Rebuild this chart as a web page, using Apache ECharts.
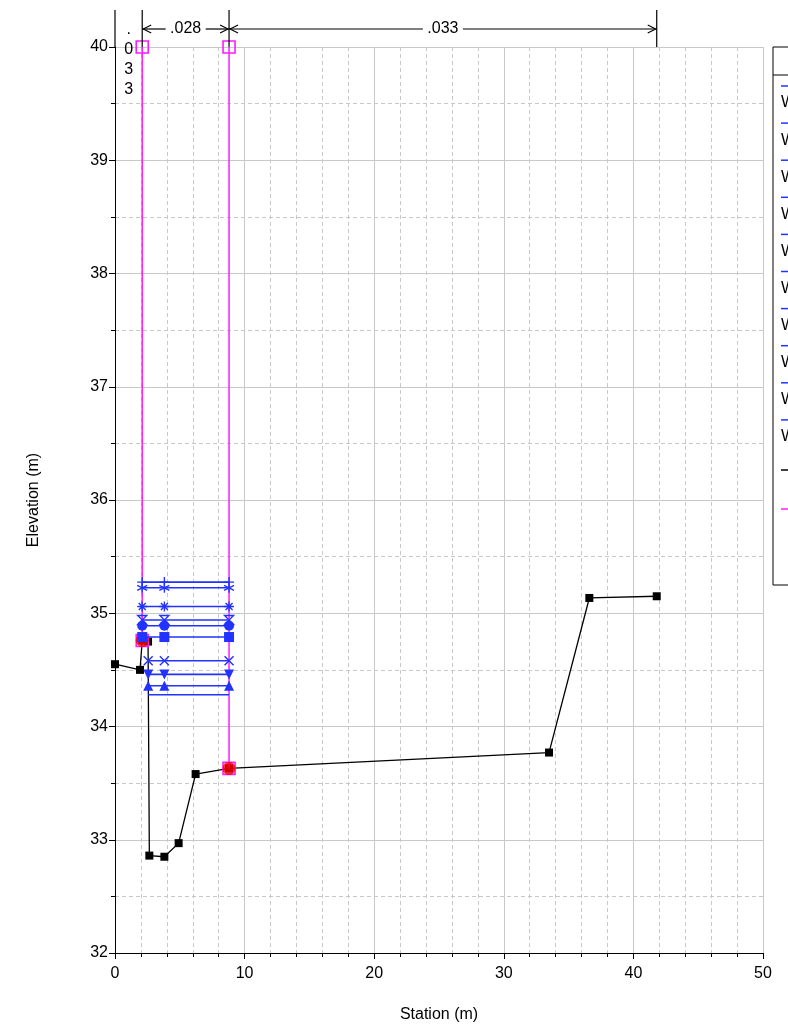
<!DOCTYPE html>
<html>
<head>
<meta charset="utf-8">
<script src="https://cdn.jsdelivr.net/npm/echarts@6/dist/echarts.min.js"></script>
<style>
html,body{margin:0;padding:0;background:#fff;}
#chart{width:788px;height:1024px;}
</style>
</head>
<body>
<div id="chart"></div>
<script>
// ---- data ----
const groundStation = [0, 1.93, 2.1, 2.55, 2.65, 3.81, 4.91, 6.22, 8.8, 33.49, 36.6, 41.8];
const groundElev    = [34.55, 34.50, 34.76, 34.75, 32.86, 32.85, 32.97, 33.58, 33.63, 33.77, 35.135, 35.15];

const bankStation = [2.1, 8.8];
const bankElev    = [34.76, 33.63];

const leveeStation = [2.1, 8.8];
const leveeTop     = [40, 40];
const leveeBottom  = [34.76, 33.63];

const wsNames = ['WS PF 10','WS PF 9','WS PF 8','WS PF 7','WS PF 6','WS PF 5','WS PF 4','WS PF 3','WS PF 2','WS PF 1'];
const wsElev  = [35.275, 35.225, 35.06, 34.94, 34.89, 34.79, 34.58, 34.46, 34.36, 34.28];
const wsLeftStation  = [2.1, 2.1, 2.1, 2.1, 2.1, 2.1, 2.56, 2.56, 2.56, 2.56];
const wsMidStation   = [3.81, 3.81, 3.81, 3.81, 3.81, 3.81, 3.81, 3.81, 3.81, null];
const wsRightStation = [8.8, 8.8, 8.8, 8.8, 8.8, 8.8, 8.8, 8.8, 8.8, 8.8];

const nStations = [0, 2.1, 8.8, 41.8];
const nLabels   = ['.033', '.028', '.033'];

const xTicks = [0, 10, 20, 30, 40, 50];
const yTicks = [32, 33, 34, 35, 36, 37, 38, 39, 40];

// ---- styles ----
const FONT = 'Liberation Sans, Arial, Helvetica, sans-serif';
const BLUE = '#2233ff';
const MAGENTA = '#ff1aff';
const wsSymbols = [
  {symbol:'path://M5 0L5 10M0 5L10 5', size:10, stroke:true},
  {symbol:'path://M5 0L5 10M0.7 2.5L9.3 7.5M9.3 2.5L0.7 7.5', size:10, stroke:true},
  {symbol:'path://M5 0L5 10M0 5L10 5M1.5 1.5L8.5 8.5M8.5 1.5L1.5 8.5', size:10, stroke:true},
  {symbol:'path://M0 0L10 0L0 10L10 10Z', size:9, stroke:true, hollow:true},
  {symbol:'circle', size:10},
  {symbol:'rect', size:10},
  {symbol:'path://M0 0L10 10M10 0L0 10', size:9, stroke:true},
  {symbol:'path://M0 0L10 0L5 9Z', size:10},
  {symbol:'triangle', size:10},
  {symbol:'none', size:0}
];

const chart = echarts.init(document.getElementById('chart'), null, {renderer:'canvas'});

const series = [];

// Ground
series.push({
  name:'Ground', type:'line', z:3,
  data: groundStation.map((s,i)=>[s, groundElev[i]]),
  symbol:'rect', symbolSize:8, showAllSymbol:true,
  lineStyle:{color:'#000', width:1.3},
  itemStyle:{color:'#000'},
  animation:false, silent:true
});

// Levee markers (magenta)
leveeStation.forEach((s,i)=>{
  series.push({
    name:'Levee', type:'line', z:4,
    data:[[s, leveeTop[i]], [s, leveeBottom[i]]],
    symbol:'rect', symbolSize:12, showAllSymbol:true,
    lineStyle:{color:MAGENTA, width:1.5},
    itemStyle:{color:'rgba(0,0,0,0)', borderColor:MAGENTA, borderWidth:1.6},
    animation:false, silent:true
  });
});

// Bank stations (red)
series.push({
  name:'Bank Sta', type:'scatter', z:5,
  data: bankStation.map((s,i)=>[s, bankElev[i]]),
  symbol:'circle', symbolSize:13,
  itemStyle:{color:'#ff0000'},
  animation:false, silent:true
});

// Water surfaces
wsElev.forEach((e,i)=>{
  const pts = [[wsLeftStation[i], e]];
  if (wsMidStation[i] !== null) pts.push([wsMidStation[i], e]);
  pts.push([wsRightStation[i], e]);
  const st = wsSymbols[i];
  series.push({
    name: wsNames[i], type:'line', z:6,
    data: pts,
    symbol: st.symbol, symbolSize: st.size, showSymbol: st.symbol !== 'none', showAllSymbol:true,
    lineStyle:{color:BLUE, width:1.6},
    itemStyle: st.stroke
      ? {color: st.hollow ? 'rgba(0,0,0,0)' : BLUE, borderColor:BLUE, borderWidth:1.4}
      : {color:BLUE, borderWidth:0},
    animation:false, silent:true
  });
});

// Manning's n annotation above plot
const nSegments = nLabels.map((l,i)=>[nStations[i], nStations[i+1]]);
series.push({
  name:'n', type:'custom', z:10, clip:false, silent:true, animation:false,
  coordinateSystem:'cartesian2d',
  encode:{x:[0,1], y:[]},
  data: nSegments,
  renderItem: function(params, api){
    const i = params.dataIndex;
    const s = api.value(0), e = api.value(1);
    const yTop = yTicks[yTicks.length-1];
    const a = api.coord([s, yTop]);
    const b = api.coord([e, yTop]);
    const top = a[1] - 37, ay = a[1] - 18;
    const ls = {stroke:'#000', lineWidth:1.2};
    const ch = [];
    ch.push({type:'line', shape:{x1:a[0], y1:top, x2:a[0], y2:a[1]}, style:ls});
    if (i === nSegments.length - 1) ch.push({type:'line', shape:{x1:b[0], y1:top, x2:b[0], y2:a[1]}, style:ls});
    const label = nLabels[i];
    const w = b[0] - a[0];
    if (w < 40) {
      ch.push({type:'text', style:{text: label.split('').join('\n'), x:(a[0]+b[0])/2, y: top + 10,
        align:'center', verticalAlign:'top', font:'16px ' + FONT, lineHeight:20, fill:'#000'}});
    } else {
      const cx = (a[0]+b[0])/2;
      const tw = 32;
      ch.push({type:'text', style:{text: label, x:cx, y:ay, align:'center', verticalAlign:'middle', font:'16px ' + FONT, fill:'#000'}});
      ch.push({type:'line', shape:{x1:a[0], y1:ay, x2:cx - tw/2 - 4, y2:ay}, style:ls});
      ch.push({type:'line', shape:{x1:cx + tw/2 + 4, y1:ay, x2:b[0], y2:ay}, style:ls});
      ch.push({type:'polyline', shape:{points:[[a[0]+9, ay-4],[a[0]+1, ay],[a[0]+9, ay+4]]}, style:{stroke:'#000', lineWidth:1.1, fill:null}});
      ch.push({type:'polyline', shape:{points:[[b[0]-9, ay-4],[b[0]-1, ay],[b[0]-9, ay+4]]}, style:{stroke:'#000', lineWidth:1.1, fill:null}});
    }
    return {type:'group', children: ch};
  }
});

// Legend (clipped at right edge, as in reference)
const legendEls = [];
legendEls.push({type:'rect', shape:{x:773, y:47, width:40, height:538}, style:{fill:'#fff', stroke:'#000', lineWidth:1}, z:0});
legendEls.push({type:'line', shape:{x1:773, y1:75, x2:800, y2:75}, style:{stroke:'#000', lineWidth:1}, z:1});
wsNames.forEach((n,i)=>{
  const y = 86 + 37.1*i;
  legendEls.push({type:'line', shape:{x1:781, y1:y, x2:800, y2:y}, style:{stroke:BLUE, lineWidth:1.5}, z:1});
  legendEls.push({type:'text', style:{text:n, x:781, y:y+17, verticalAlign:'middle', font:'16px ' + FONT, fill:'#000'}, z:1});
});
legendEls.push({type:'line', shape:{x1:781, y1:470, x2:800, y2:470}, style:{stroke:'#000', lineWidth:1.5}, z:1});
legendEls.push({type:'text', style:{text:'Ground', x:805, y:470, verticalAlign:'middle', font:'16px ' + FONT, fill:'#000'}, z:1});
legendEls.push({type:'line', shape:{x1:781, y1:509, x2:800, y2:509}, style:{stroke:MAGENTA, lineWidth:1.5}, z:1});
legendEls.push({type:'text', style:{text:'Levee', x:805, y:509, verticalAlign:'middle', font:'16px ' + FONT, fill:'#000'}, z:1});

const option = {
  backgroundColor:'#fff',
  animation:false,
  grid:{left:115, right:25, top:47, bottom:71, containLabel:false, outerBoundsMode:'none'},
  xAxis:{
    type:'value', min:xTicks[0], max:xTicks[xTicks.length-1], interval:xTicks[1]-xTicks[0],
    axisLine:{show:true, onZero:false, lineStyle:{color:'#000', width:1}},
    axisTick:{show:true, length:6, lineStyle:{color:'#000'}},
    minorTick:{show:true, splitNumber:5, length:4, lineStyle:{color:'#000'}},
    axisLabel:{color:'#000', fontSize:16, fontFamily:FONT, margin:13},
    splitLine:{show:true, lineStyle:{color:'#c8c8c8', width:1}},
    minorSplitLine:{show:true, lineStyle:{color:'#c8c8c8', width:1, type:[4,3]}},
    name:'Station (m)', nameLocation:'middle', nameGap:54,
    nameTextStyle:{color:'#000', fontSize:16, fontFamily:FONT}
  },
  yAxis:{
    type:'value', min:yTicks[0], max:yTicks[yTicks.length-1], interval:1,
    axisLine:{show:true, onZero:false, lineStyle:{color:'#000', width:1}},
    axisTick:{show:true, length:6, lineStyle:{color:'#000'}},
    minorTick:{show:true, splitNumber:2, length:4, lineStyle:{color:'#000'}},
    axisLabel:{color:'#000', fontSize:16, fontFamily:FONT, margin:7},
    splitLine:{show:true, lineStyle:{color:'#c8c8c8', width:1}},
    minorSplitLine:{show:true, lineStyle:{color:'#c8c8c8', width:1, type:[4,3]}},
    name:'Elevation (m)', nameLocation:'middle', nameGap:73,
    nameTextStyle:{color:'#000', fontSize:16, fontFamily:FONT}
  },
  graphic: legendEls,
  series: series
};
chart.setOption(option);
</script>
</body>
</html>
